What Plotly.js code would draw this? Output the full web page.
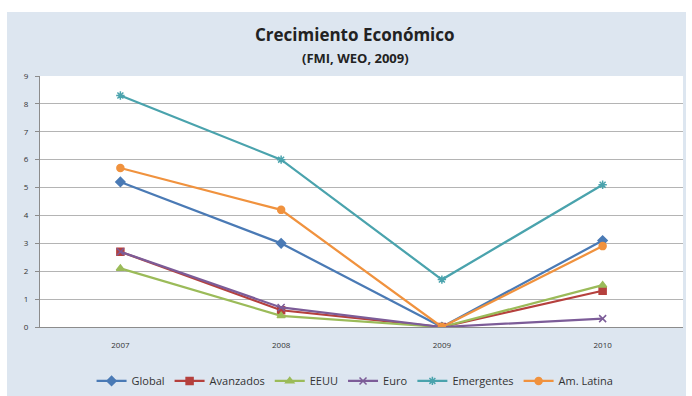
<!DOCTYPE html>
<html>
<head>
<meta charset="utf-8">
<script src="https://cdn.plot.ly/plotly-3.0.1.min.js"></script>
<style>
html,body{margin:0;padding:0;background:#ffffff;width:692px;height:396px;overflow:hidden;}
#chart{position:absolute;left:7px;top:12px;width:679px;height:384px;}
</style>
</head>
<body>
<div id="chart"></div>
<script>
var years = ['2007', '2008', '2009', '2010'];
var seriesNames = ['Global', 'Avanzados', 'EEUU', 'Euro', 'Emergentes', 'Am. Latina'];
var global = [5.2, 3.0, 0, 3.1];
var avanzados = [2.7, 0.6, 0, 1.3];
var eeuu = [2.1, 0.4, 0, 1.5];
var euro = [2.7, 0.7, 0, 0.3];
var emergentes = [8.3, 6.0, 1.7, 5.1];
var amLatina = [5.7, 4.2, 0, 2.9];
var yTicks = [0, 1, 2, 3, 4, 5, 6, 7, 8, 9];

var values = [global, avanzados, eeuu, euro, emergentes, amLatina];
var colors = ['#4a7ab5', '#b5403d', '#9bbb59', '#7c5c98', '#4aa3ad', '#f0923e'];
var symbols = ['diamond', 'square', 'triangle-up', 'x-thin-open', 'asterisk-open', 'circle'];

var traces = values.map(function (v, i) {
  return {
    x: years, y: v, name: seriesNames[i], type: 'scatter', mode: 'lines+markers',
    line: {color: colors[i], width: 2.25},
    marker: {symbol: symbols[i], size: 7, color: colors[i], line: {color: colors[i], width: 1.5}},
    cliponaxis: true
  };
});

var layout = {
  width: 679, height: 384,
  margin: {l: 33, r: 3, t: 64, b: 69, autoexpand: false},
  paper_bgcolor: '#dde6f0',
  plot_bgcolor: '#ffffff',
  font: {family: 'Open Sans, sans-serif', color: '#333333'},
  showlegend: true,
  legend: {orientation: 'h', x: 0.49, xanchor: 'center', y: -0.157, yanchor: 'top',
           font: {size: 11, color: '#333333'}, bgcolor: 'rgba(0,0,0,0)', itemwidth: 30},
  xaxis: {type: 'category', range: [-0.5, 3.5], tickvals: years, ticktext: years, showgrid: false,
          showline: true, linecolor: '#8c8c8c', linewidth: 1, ticks: '', ticklabelstandoff: 10,
          tickfont: {size: 8, color: '#333333'}, zeroline: false, fixedrange: true},
  yaxis: {range: [0, 9], tickvals: yTicks, ticktext: yTicks.map(String), showgrid: true,
          gridcolor: '#b4b4b4', gridwidth: 1, showline: true, linecolor: '#8c8c8c',
          ticks: 'outside', ticklen: 4, tickcolor: '#8c8c8c', ticklabelstandoff: 5,
          tickfont: {size: 8, color: '#333333'}, zeroline: false, fixedrange: true},
  annotations: [
    {text: '<b>Crecimiento Económico</b>', xref: 'paper', yref: 'paper', x: 0.49, y: 1.167,
     xanchor: 'center', yanchor: 'middle', showarrow: false, font: {size: 17, color: '#222222'}},
    {text: '<b>(FMI, WEO, 2009)</b>', xref: 'paper', yref: 'paper', x: 0.49, y: 1.072,
     xanchor: 'center', yanchor: 'middle', showarrow: false, font: {size: 13, color: '#222222'}}
  ]
};

Plotly.newPlot('chart', traces, layout, {displayModeBar: false, staticPlot: true});
</script>
</body>
</html>
